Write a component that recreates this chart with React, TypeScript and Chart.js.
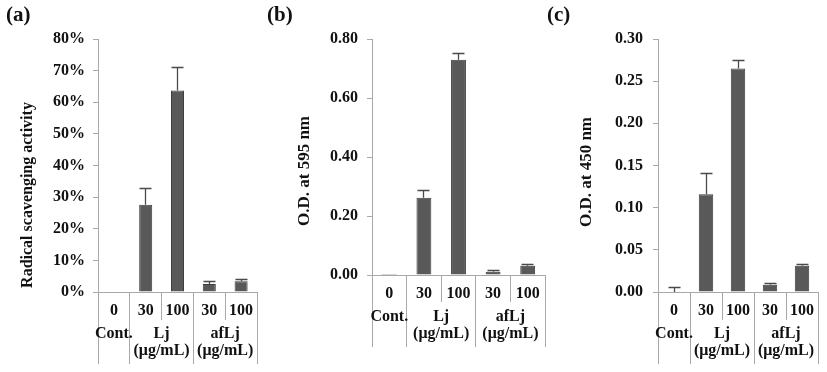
import React, { useEffect, useRef } from "react";
import { Chart, registerables } from "chart.js";

Chart.register(...registerables);

// ---- data ----
const categories = ["0", "30", "100", "30", "100"];
const groupNames = ["Cont.", "Lj", "afLj"];
const groupUnits = ["", "(μg/mL)", "(μg/mL)"];
const groupSpans = [1, 2, 2];

const scavenging = [0, 27.6, 63.7, 2.5, 3.4];
const scavengingErr = [0, 5.1, 7.2, 0.8, 0.5];
const od595 = [0.003, 0.262, 0.73, 0.011, 0.031];
const od595Err = [0, 0.026, 0.02, 0.003, 0.006];
const od450 = [0, 0.116, 0.265, 0.0085, 0.031];
const od450Err = [0.005, 0.025, 0.0095, 0.0015, 0.0013];

const panelLabels = ["(a)", "(b)", "(c)"];
const yTitles = ["Radical scavenging activity", "O.D. at 595 nm", "O.D. at 450 nm"];

// ---- layout / style ----
const W = 827;
const H = 372;
const FONT = "'Liberation Serif', 'Times New Roman', serif";
const TEXT = "#111111";
const AXIS = "#a8a8a8";
const BAR = "#595959";
const BAR_BORDER = "#3e3e3e";
const Y_AXIS_W = 90;
const X_AXIS_H = 40;

type Panel = {
  values: number[];
  errs: number[];
  max: number;
  step: number;
  fmt: (v: number) => string;
  label: string;
  title: string;
  left: number;
  right: number;
  top: number;
  bottom: number;
  rows: number[];
  innerBottom: number;
  tableBottom: number;
  labelX: number;
  titleX: number;
  titleY: number;
  titleSize: number;
  tickPad: number;
  xTickPad: number;
  barPct: number;
};

const panels: Panel[] = [
  {
    values: scavenging, errs: scavengingErr, max: 80, step: 10,
    fmt: (v) => `${Math.round(v)}%`,
    label: panelLabels[0], title: yTitles[0],
    left: 98, right: 257, top: 39, bottom: 292,
    rows: [310, 334, 351], innerBottom: 320, tableBottom: 364,
    labelX: 6, titleX: 28, titleY: 195, titleSize: 16, tickPad: 8, xTickPad: 9, barPct: 0.41,
  },
  {
    values: od595, errs: od595Err, max: 0.8, step: 0.2,
    fmt: (v) => v.toFixed(2),
    label: panelLabels[1], title: yTitles[1],
    left: 372, right: 545, top: 39, bottom: 275,
    rows: [293, 317, 334], innerBottom: 302, tableBottom: 347,
    labelX: 267, titleX: 305, titleY: 171, titleSize: 17, tickPad: 9, xTickPad: 9, barPct: 0.43,
  },
  {
    values: od450, errs: od450Err, max: 0.3, step: 0.05,
    fmt: (v) => v.toFixed(2),
    label: panelLabels[2], title: yTitles[2],
    left: 658, right: 818, top: 39, bottom: 292,
    rows: [310, 334, 351], innerBottom: 320, tableBottom: 364,
    labelX: 547, titleX: 587, titleY: 172, titleSize: 17, tickPad: 10, xTickPad: 9, barPct: 0.45,
  },
];

const align = (px: number) => Math.round(px - 0.5) + 0.5;

function makePlugin(p: Panel) {
  return {
    id: "panelExtras",
    afterDatasetsDraw(chart: any) {
      const ctx = chart.ctx as CanvasRenderingContext2D;
      const xs = chart.scales.x;
      const ys = chart.scales.y;
      ctx.save();
      ctx.strokeStyle = "#4a4a4a";
      ctx.lineWidth = 1.3;
      p.values.forEach((v, i) => {
        const e = p.errs[i];
        if (!e) return;
        const x = align(xs.getPixelForValue(i));
        const y0 = ys.getPixelForValue(v);
        const y1 = ys.getPixelForValue(v + e);
        ctx.beginPath();
        ctx.moveTo(x, y0);
        ctx.lineTo(x, y1);
        ctx.moveTo(x - 6, align(y1));
        ctx.lineTo(x + 6, align(y1));
        ctx.stroke();
      });
      ctx.restore();
    },
    afterDraw(chart: any) {
      const ctx = chart.ctx as CanvasRenderingContext2D;
      const xs = chart.scales.x;
      const ys = chart.scales.y;
      const n = categories.length;
      const cw = (xs.right - xs.left) / n;
      ctx.save();
      // table divider lines
      const groupBounds = [0];
      groupSpans.forEach((s) => groupBounds.push(groupBounds[groupBounds.length - 1] + s));
      ctx.strokeStyle = AXIS;
      ctx.lineWidth = 1;
      for (let k = 0; k <= n; k++) {
        const x = align(xs.left + k * cw);
        const isGroup = groupBounds.includes(k);
        ctx.beginPath();
        ctx.moveTo(x, ys.bottom);
        ctx.lineTo(x, isGroup ? p.tableBottom : p.innerBottom);
        ctx.stroke();
      }
      // group labels
      ctx.fillStyle = TEXT;
      ctx.font = `bold 16px ${FONT}`;
      ctx.textAlign = "center";
      ctx.textBaseline = "middle";
      let start = 0;
      groupNames.forEach((g, gi) => {
        const span = groupSpans[gi];
        const cx = xs.left + (start + span / 2) * cw;
        ctx.fillText(g, cx, p.rows[1]);
        if (groupUnits[gi]) ctx.fillText(groupUnits[gi], cx, p.rows[2]);
        start += span;
      });
      // panel label
      ctx.font = `bold 21px ${FONT}`;
      ctx.textAlign = "left";
      ctx.fillText(p.label, p.labelX, 16);
      // y title
      ctx.font = `bold ${p.titleSize}px ${FONT}`;
      ctx.translate(p.titleX, p.titleY);
      ctx.rotate(-Math.PI / 2);
      ctx.textAlign = "center";
      ctx.fillText(p.title, 0, 0);
      ctx.restore();
    },
  };
}

function PanelChart({ p }: { p: Panel }) {
  const ref = useRef<HTMLCanvasElement | null>(null);
  useEffect(() => {
    if (!ref.current) return;
    const chart = new Chart(ref.current, {
      type: "bar",
      data: {
        labels: categories,
        datasets: [
          {
            data: p.values,
            backgroundColor: BAR,
            borderColor: BAR_BORDER,
            borderWidth: 1,
            barPercentage: p.barPct,
            categoryPercentage: 1,
          },
        ],
      },
      options: {
        responsive: false,
        animation: false,
        devicePixelRatio: 1,
        events: [],
        layout: {
          padding: {
            left: p.left - Y_AXIS_W,
            right: W - p.right,
            top: p.top,
            bottom: H - p.bottom - X_AXIS_H,
          },
        },
        plugins: {
          legend: { display: false },
          tooltip: { enabled: false },
        },
        scales: {
          x: {
            grid: { display: false, drawTicks: false },
            border: { display: true, color: AXIS, width: 1 },
            ticks: {
              color: TEXT,
              font: { family: FONT, size: 16, weight: "bold" },
              padding: p.xTickPad,
              maxRotation: 0,
              autoSkip: false,
            },
            afterFit: (s: any) => {
              s.height = X_AXIS_H;
            },
          },
          y: {
            min: 0,
            max: p.max,
            grid: { drawOnChartArea: false, drawTicks: true, tickLength: 5, color: AXIS },
            border: { display: true, color: AXIS, width: 1 },
            ticks: {
              stepSize: p.step,
              color: TEXT,
              font: { family: FONT, size: 16, weight: "bold" },
              padding: p.tickPad,
              callback: (v: any) => p.fmt(Number(v)),
            },
            afterFit: (s: any) => {
              s.width = Y_AXIS_W;
            },
          },
        },
      } as any,
      plugins: [makePlugin(p)],
    });
    return () => chart.destroy();
  }, [p]);
  return (
    <canvas
      ref={ref}
      width={W}
      height={H}
      style={{ position: "absolute", left: 0, top: 0, width: W, height: H }}
    />
  );
}

export default function App() {
  return (
    <div style={{ position: "absolute", left: 0, top: 0, width: W, height: H, background: "#ffffff", overflow: "hidden" }}>
      {panels.map((p, i) => (
        <PanelChart key={i} p={p} />
      ))}
    </div>
  );
}
